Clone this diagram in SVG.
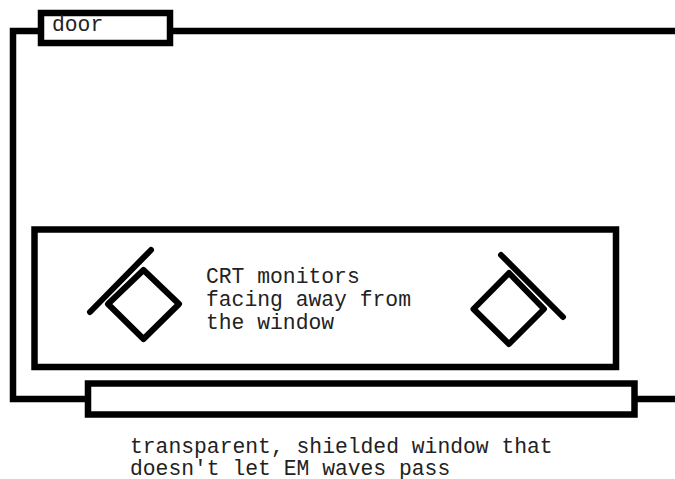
<svg xmlns="http://www.w3.org/2000/svg" width="675" height="479" viewBox="0 0 675 479">
<style>
.w{fill:none;stroke:#000;stroke-width:6.500}
.b{fill:#fff;stroke:#000;stroke-width:6.500}
.m{fill:#fff;stroke:#000;stroke-width:6;stroke-linejoin:round}
.l{fill:none;stroke:#000;stroke-width:6;stroke-linecap:round}
text{font-family:"Liberation Mono","Courier New",monospace;font-size:21.350px;fill:#222}
</style>
<rect width="675" height="479" fill="#fff"/>
<g id="connectors">
<path class="w" d="M675 31H13V399H675"/>
</g>
<g id="door">
<rect class="b" x="41" y="13" width="129" height="30"/>
<text x="52" y="31">door</text>
</g>
<g id="room">
<rect class="b" x="34.500" y="229.500" width="581.500" height="137.500"/>
<text x="206" y="283">CRT monitors</text>
<text x="206" y="306">facing away from</text>
<text x="206" y="329">the window</text>
</g>
<g id="monitor-left">
<path class="l" d="M90 312L151 250"/>
<path class="m" d="M143.500 270L179 304L143.500 339L108 304Z"/>
</g>
<g id="monitor-right">
<path class="l" d="M501 255L563 317"/>
<path class="m" d="M509 273L544 309L509 344L473.500 309Z"/>
</g>
<g id="window">
<rect class="b" x="88" y="383.500" width="546.500" height="31"/>
<text x="130" y="453">transparent, shielded window that</text>
<text x="130" y="475">doesn't let EM waves pass</text>
</g>
</svg>
